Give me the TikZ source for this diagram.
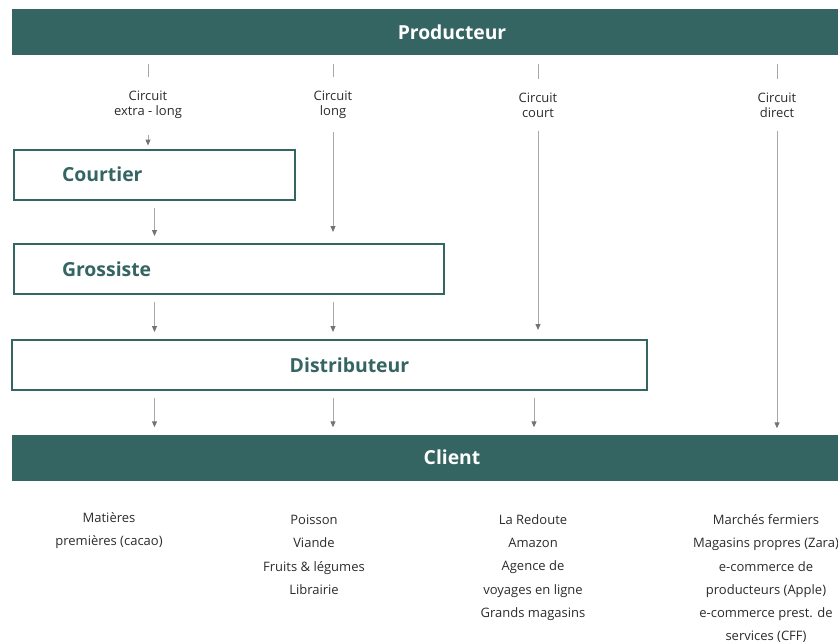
\documentclass[tikz,border=0pt]{standalone}
\usepackage{fontspec}
\setmainfont{Open Sans}
\usepackage{tikz}
\usetikzlibrary{positioning,arrows.meta}
\definecolor{petrol}{HTML}{356563}
\definecolor{wire}{HTML}{A8A8A8}
\definecolor{tip}{HTML}{737373}
\definecolor{ink}{HTML}{2B2B2B}

\begin{document}
\begin{tikzpicture}[
    x=1pt, y=-1pt,
    bar/.style = {rectangle, fill=petrol, text=white, inner sep=0pt, minimum width=880pt, minimum height=46pt, font=\bfseries\fontsize{19.3}{21}\selectfont},
    stage/.style = {rectangle, draw=petrol, line width=2pt, fill=white, text=petrol, inner ysep=0pt, inner xsep=48pt, minimum height=50pt, align=left, font=\bfseries\fontsize{19.4}{21}\selectfont},
    circuit/.style = {inner sep=0pt, align=center, text=ink, font=\fontsize{13}{15}\selectfont},
    examples/.style = {inner sep=0pt, align=center, anchor=north, text=ink, font=\fontsize{13}{23.2}\selectfont},
    wire/.style = {draw=wire, line width=1pt},
    flow/.style = {wire, -{Triangle[length=6pt, width=5pt, color=tip]}, shorten <=7pt, shorten >=7pt},
]
    \useasboundingbox (0,0) rectangle (838,642);

    % producer and client
    \node[bar] (prod) at (452, 32.5) {Producteur};
    \node[bar] (client) at (452, 457.5) {Client};

    % intermediaries
    \node[stage, text width=185pt] (courtier) at (154.5, 174.5) {Courtier};
    \node[stage, text width=334pt] (grossiste) at (229, 269) {Grossiste};
    \node[stage, text width=539pt, align=center] (distrib) at (329.5, 365) {\hspace*{40pt}Distributeur};

    % circuits
    \node[circuit] (extralong) at (148, 105) {Circuit\\extra - long};
    \node[circuit] (long) at (333, 105) {Circuit\\long};
    \node[circuit] (court) at (538, 105) {Circuit\\court};
    \node[circuit] (direct) at (777, 105) {Circuit\\direct};

    % ticks
    \draw[wire, shorten <=8pt, shorten >=13.5pt] (prod.south -| extralong) -- (extralong.north);
    \draw[wire, shorten <=8pt, shorten >=13.5pt] (prod.south -| long) -- (long.north);
    \draw[wire, shorten <=8pt, shorten >=13.5pt] (prod.south -| court) -- (court.north);
    \draw[wire, shorten <=8pt, shorten >=13.5pt] (prod.south -| direct) -- (direct.north);

    % flows
    \draw[flow, shorten <=16pt, shorten >=3pt] (extralong.south) -- (extralong.south |- courtier.north);
    \draw[flow, shorten <=13pt, shorten >=11pt] (long.south) -- (long.south |- grossiste.north);
    \draw[flow, shorten <=13pt, shorten >=9pt] (court.south) -- (court.south |- distrib.north);
    \draw[flow, shorten <=13pt, shorten >=6pt] (direct.south) -- (direct.south |- client.north);
    \draw[flow] (courtier.south) -- (courtier.south |- grossiste.north);
    \draw[flow] (grossiste.south -| courtier) -- (courtier |- distrib.north);
    \draw[flow] (grossiste.south -| long) -- (long |- distrib.north);
    \draw[flow] (distrib.south -| courtier) -- (courtier |- client.north);
    \draw[flow] (distrib.south -| long) -- (long |- client.north);
    \draw[flow] ([xshift=-4pt]distrib.south -| court) -- ([xshift=-4pt]court |- client.north);

    % examples
    \node[examples] (ex1) at (109, 512.5) {Matières\\premières (cacao)};
    \node[examples] (ex2) at (314, 515) {Poisson\\Viande\\Fruits \& légumes\\Librairie};
    \node[examples] (ex3) at (533, 514.5) {La Redoute\\Amazon\\Agence de\\voyages en ligne\\Grands magasins};
    \node[examples] (ex4) at (766, 514.5) {Marchés fermiers\\Magasins propres (Zara)\\e-commerce de\\producteurs (Apple)\\e-commerce prest. de\\services (CFF)};

\end{tikzpicture}
\end{document}
